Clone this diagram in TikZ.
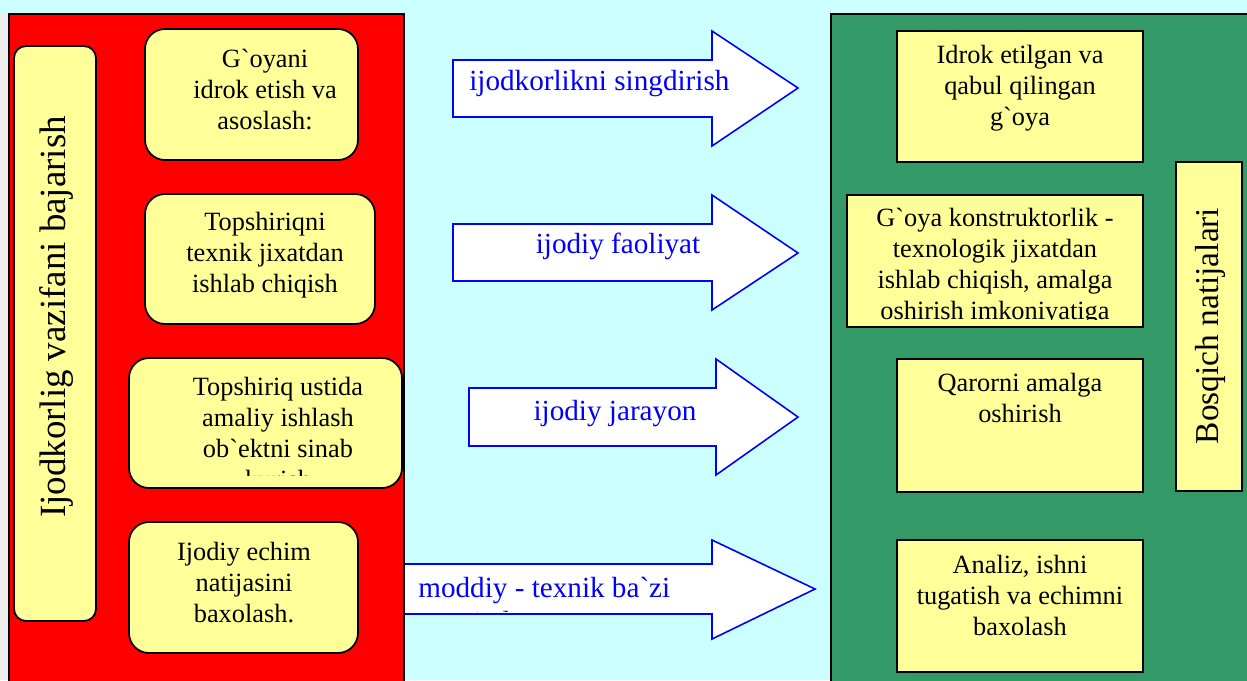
\documentclass[tikz,border=0pt]{standalone}
\usepackage{fontspec}
\setmainfont{Liberation Serif}[Ligatures=TeXOff]
\definecolor{skybg}{HTML}{CCFFFF}
\definecolor{panelred}{HTML}{FF0000}
\definecolor{panelgreen}{HTML}{339966}
\definecolor{boxyellow}{HTML}{FFFF99}
\definecolor{stripgrey}{HTML}{EEEEEE}
\newcommand{\boxfont}{\fontsize{15}{17.6}\selectfont}
\newcommand{\arrowfont}{\fontsize{16.6}{19.2}\selectfont}
\begin{document}
\begin{tikzpicture}[x=0.02cm, y=-0.02cm,
    roundbox/.style={draw=black, line width=1pt, fill=boxyellow, rounded corners=0.4cm, inner sep=0pt},
    sidebox/.style={draw=black, line width=1pt, fill=boxyellow, rounded corners=0.24cm, inner sep=0pt},
    squarebox/.style={draw=black, line width=1pt, fill=boxyellow, inner sep=0pt},
    boxtext/.style={anchor=north, inner sep=0pt, align=center, font=\boxfont},
    arrowshape/.style={draw=blue, line width=0.9pt, fill=white, line join=miter},
    arrowtext/.style={inner sep=0pt, text=blue, font=\arrowfont}]
    \useasboundingbox (0,0) rectangle (1247,680);
    \clip (0,0) rectangle (1247,680);
    \fill[skybg] (0,0) rectangle (1247,680);
    \fill[stripgrey] (0,14) rectangle (9,680);

    % arrow into the red panel edge
    \draw[arrowshape] (396,564) -- (712,564) -- (712,540) -- (815,589) -- (712,639) -- (712,614) -- (396,614) -- cycle;

    % panels
    \draw[fill=panelred, draw=black, line width=1pt] (9,14) rectangle (404,700);
    \draw[fill=panelgreen, draw=black, line width=1pt] (831,14) rectangle (1260,700);

    % left side
    \node[sidebox, minimum width=1.64cm, minimum height=11.5cm] (task) at (55,333.5) {};
    \node[rotate=90, inner sep=0pt, font=\fontsize{21}{25}\selectfont] (tasktext) at (56,317) {Ijodkorlig vazifani bajarish};

    \node[roundbox, minimum width=4.26cm, minimum height=2.62cm] (idea) at (251.5,94.5) {};
    \node[roundbox, minimum width=4.6cm, minimum height=2.6cm] (tech) at (260,259) {};
    \node[roundbox, minimum width=5.46cm, minimum height=2.6cm] (work) at (265.5,423) {};
    \node[roundbox, minimum width=4.58cm, minimum height=2.62cm] (eval) at (243.5,587.5) {};

    \node[boxtext] (ideatext) at (265,49) {G`oyani\\idrok etish va\\asoslash:};
    \node[boxtext] (techtext) at (265,212) {Topshiriqni\\texnik jixatdan\\ishlab chiqish};
    \begin{scope}
        \clip (129,358) rectangle (402,475);
        \node[boxtext] (worktext) at (278,377) {Topshiriq ustida\\amaliy ishlash\\ob`ektni sinab\\kurish};
    \end{scope}
    \node[boxtext] (evaltext) at (244,542) {Ijodiy echim\\natijasini\\baxolash.};

    % arrows
    \draw[arrowshape] (453,60) -- (712,60) -- (712,31) -- (798,88) -- (712,146) -- (712,117) -- (453,117) -- cycle;
    \draw[arrowshape] (453,224) -- (712,224) -- (712,195) -- (798,253) -- (712,310) -- (712,281) -- (453,281) -- cycle;
    \draw[arrowshape] (469,388) -- (716,388) -- (716,359) -- (798,417) -- (716,475) -- (716,446) -- (469,446) -- cycle;

    \node[arrowtext, anchor=north west] (inspire) at (469,70) {ijodkorlikni singdirish};
    \node[arrowtext, anchor=north] (activity) at (618,233) {ijodiy faoliyat};
    \node[arrowtext, anchor=north] (process) at (615,400) {ijodiy jarayon};
    \begin{scope}
        \clip (405,565) rectangle (711,611);
        \node[arrowtext, anchor=north west, align=left] (means) at (418,577) {moddiy - texnik ba`zi\\\hspace*{0.5em}vositalar};
    \end{scope}

    % right side
    \node[squarebox, minimum width=4.92cm, minimum height=2.62cm] (accepted) at (1020,96.5) {};
    \node[squarebox, minimum width=5.92cm, minimum height=2.64cm] (design) at (995,261) {};
    \node[squarebox, minimum width=4.92cm, minimum height=2.66cm] (realise) at (1020,425.5) {};
    \node[squarebox, minimum width=4.92cm, minimum height=2.64cm] (analysis) at (1020,606) {};
    \node[squarebox, minimum width=1.32cm, minimum height=6.58cm] (results) at (1209,326.5) {};
    \node[rotate=90, inner sep=0pt, font=\fontsize{19}{23}\selectfont] (resultstext) at (1210,326) {Bosqich natijalari};

    \node[boxtext] (acceptedtext) at (1020,45) {Idrok etilgan va\\qabul qilingan\\g`oya};
    \begin{scope}
        \clip (848,196) rectangle (1142,319);
        \node[boxtext] (designtext) at (995,208) {G`oya konstruktorlik -\\texnologik jixatdan\\ishlab chiqish, amalga\\oshirish imkoniyatiga};
    \end{scope}
    \node[boxtext] (realisetext) at (1020,373) {Qarorni amalga\\oshirish};
    \node[boxtext] (analysistext) at (1020,555) {Analiz, ishni\\tugatish va echimni\\baxolash};
\end{tikzpicture}
\end{document}
